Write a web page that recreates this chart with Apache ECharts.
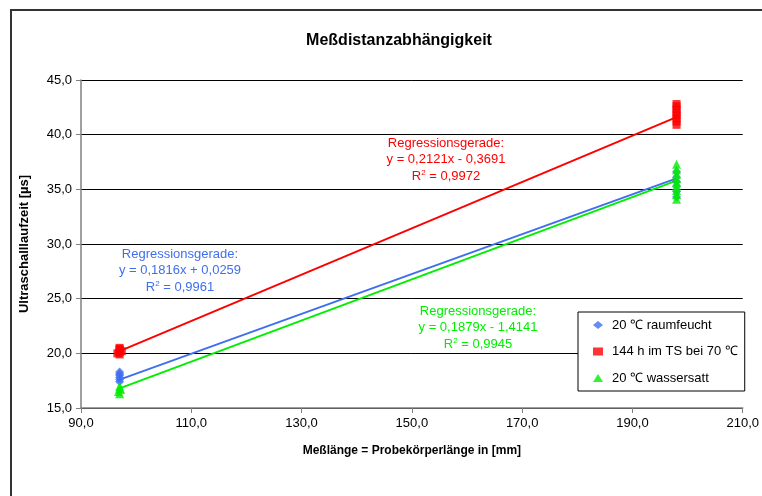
<!DOCTYPE html>
<html><head><meta charset="utf-8">
<script src="https://cdn.jsdelivr.net/npm/echarts@6/dist/echarts.min.js"></script>
<style>html,body{margin:0;padding:0;background:#fff}#c{width:762px;height:496px}</style>
</head><body><div id="c"></div>
<script>
const xTicks = [90, 110, 130, 150, 170, 190, 210];
const yTicks = [15, 20, 25, 30, 35, 40, 45];
const seriesNames = ['20 ℃ raumfeucht', '144 h im TS bei 70 ℃', '20 ℃ wassersatt'];
const blueX = [97, 97, 97, 97, 97, 97, 198, 198, 198, 198, 198, 198];
const blueY = [17.4, 17.6, 17.8, 18.0, 18.1, 18.3, 34.3, 34.8, 35.3, 35.7, 36.1, 36.6];
const redX = [97, 96.6, 97, 97.4, 97, 97, 97, 198, 198, 198, 198, 198, 198, 198, 198];
const redY = [19.9, 20.0, 20.1, 20.2, 20.3, 20.4, 20.5, 40.9, 41.2, 41.5, 41.8, 42.0, 42.3, 42.6, 42.8];
const greenX = [97, 96.8, 97.2, 97, 97, 198, 198, 198, 198, 198, 198, 198, 198, 198];
const greenY = [16.3, 16.5, 16.7, 16.8, 17.0, 34.1, 34.5, 34.9, 35.3, 35.6, 36.0, 36.4, 36.8, 37.3];
const blueFitX = [97, 198], blueFitY = [17.6, 36.0];
const redFitX = [97, 198], redFitY = [20.2, 41.6];
const greenFitX = [97, 198], greenFitY = [16.8, 35.8];
const labels = [
  ['Regressionsgerade:', 'y = 0,1816x + 0,0259', '0,9961'],
  ['Regressionsgerade:', 'y = 0,2121x - 0,3691', '0,9972'],
  ['Regressionsgerade:', 'y = 0,1879x - 1,4141', '0,9945']
];
const colors = ['#3f6fef', '#ff0000', '#00ee00'];
const zip = (a, b) => a.map((v, i) => [v, b[i]]);
const fmt = v => v.toFixed(1).replace('.', ',');
const F = 'Liberation Sans, Arial, sans-serif';

const chart = echarts.init(document.getElementById('c'));
function regText(idx, cx, y0) {
  const c = colors[idx];
  const L = labels[idx];
  return [
    {type: 'text', x: cx, y: y0, style: {text: L[0], fill: c, font: '13px ' + F, align: 'center', verticalAlign: 'middle'}},
    {type: 'text', x: cx, y: y0 + 16.5, style: {text: L[1], fill: c, font: '13px ' + F, align: 'center', verticalAlign: 'middle'}},
    {type: 'text', x: cx, y: y0 + 33.5, style: {text: '{s|R}{t|2}{s| = ' + L[2] + '}', fill: c, align: 'center', verticalAlign: 'middle',
      rich: {s: {fill: c, font: '13px ' + F}, t: {fill: c, font: '8px ' + F, verticalAlign: 'top', padding: [0, 0, 7, 0]}}}}
  ];
}
const gfx = [
  {type: 'rect', shape: {x: 11, y: 10, width: 900, height: 700}, style: {fill: 'none', stroke: '#333', lineWidth: 2}, z: -1},
  ...regText(0, 180, 254),
  ...regText(1, 446, 143),
  ...regText(2, 478, 311)
];
chart.setOption({
  animation: false,
  backgroundColor: '#fff',
  title: {text: 'Meßdistanzabhängigkeit', left: 394, top: 28, textAlign: 'center',
    textStyle: {fontFamily: F, fontSize: 16, fontWeight: 'bold', color: '#000'}},
  grid: {left: 81, right: 15, top: 80, bottom: 88, containLabel: false},
  legend: {
    orient: 'vertical', left: 578, top: 312, itemGap: 13.5, itemWidth: 10, itemHeight: 8,
    padding: [6.5, 7, 6.5, 15], borderColor: '#000', borderWidth: 1, backgroundColor: '#fff',
    data: seriesNames,
    textStyle: {fontFamily: F, fontSize: 13, color: '#000', padding: [0, 0, 0, 4]}
  },
  xAxis: {
    type: 'value', min: xTicks[0], max: xTicks[xTicks.length - 1], interval: 20,
    name: 'Meßlänge = Probekörperlänge in [mm]', nameLocation: 'middle', nameGap: 37,
    nameTextStyle: {fontFamily: F, fontSize: 12, fontWeight: 'bold', color: '#000'},
    axisLine: {lineStyle: {color: '#808080', width: 1.5}},
    axisTick: {show: true, inside: false, length: 5, lineStyle: {color: '#808080'}},
    axisLabel: {formatter: fmt, fontFamily: F, fontSize: 13, color: '#000', margin: 9},
    splitLine: {show: false}
  },
  yAxis: {
    type: 'value', min: yTicks[0], max: yTicks[yTicks.length - 1], interval: 5,
    name: 'Ultraschalllaufzeit [µs]', nameLocation: 'middle', nameGap: 50,
    nameTextStyle: {fontFamily: F, fontSize: 13, fontWeight: 'bold', color: '#000'},
    axisLine: {show: true, lineStyle: {color: '#808080', width: 1.5}},
    axisTick: {show: true, inside: false, length: 5, lineStyle: {color: '#808080'}},
    axisLabel: {formatter: fmt, fontFamily: F, fontSize: 13, color: '#000', margin: 9},
    splitLine: {show: true, lineStyle: {color: '#000', width: 1}}
  },
  series: [
    {name: seriesNames[0], type: 'scatter', symbol: 'diamond', symbolSize: 9, itemStyle: {color: colors[0]}, data: zip(blueX, blueY), z: 3},
    {name: seriesNames[1], type: 'scatter', symbol: 'rect', symbolSize: 8, itemStyle: {color: colors[1]}, data: zip(redX, redY), z: 3},
    {name: seriesNames[2], type: 'scatter', symbol: 'triangle', symbolSize: 9, itemStyle: {color: colors[2]}, data: zip(greenX, greenY), z: 4},
    {name: 'fitB', type: 'line', showSymbol: false, lineStyle: {color: colors[0], width: 2}, data: zip(blueFitX, blueFitY), z: 2},
    {name: 'fitR', type: 'line', showSymbol: false, lineStyle: {color: colors[1], width: 2}, data: zip(redFitX, redFitY), z: 2},
    {name: 'fitG', type: 'line', showSymbol: false, lineStyle: {color: colors[2], width: 2}, data: zip(greenFitX, greenFitY), z: 2}
  ],
  graphic: gfx
});
</script></body></html>
